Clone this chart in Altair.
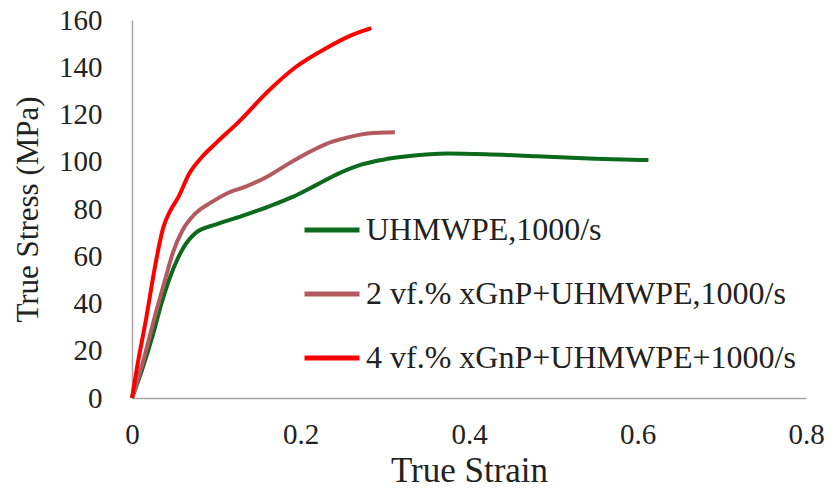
import altair as alt
import pandas as pd

series_names = ["UHMWPE,1000/s", "2 vf.% xGnP+UHMWPE,1000/s", "4 vf.% xGnP+UHMWPE+1000/s"]
colors = ["#0b6a1b", "#b35a5e", "#ff0000"]

green_strain = [0, 0.012, 0.025, 0.035, 0.045, 0.06, 0.076, 0.1, 0.13, 0.162, 0.19, 0.218, 0.245, 0.272, 0.3, 0.327, 0.374, 0.42, 0.48, 0.55, 0.613]
green_stress = [0, 12, 27, 40, 51, 63, 70, 73.5, 77, 81, 85, 90, 95, 98.8, 101, 102.3, 103.5, 103.2, 102.3, 101.3, 100.7]

brown_strain = [0, 0.012, 0.029, 0.04, 0.049, 0.06, 0.075, 0.095, 0.115, 0.135, 0.162, 0.185, 0.21, 0.23, 0.253, 0.28, 0.312]
brown_stress = [0, 14, 37, 51, 62, 71, 78, 83, 87, 89.5, 94, 99, 104, 107.5, 110, 112, 112.5]

red_strain = [0, 0.006, 0.017, 0.027, 0.037, 0.045, 0.055, 0.068, 0.083, 0.1, 0.127, 0.162, 0.194, 0.233, 0.26, 0.284]
red_stress = [0, 13, 34, 55, 72, 79, 85, 95, 102, 108, 117, 130, 140, 148.6, 153.5, 156.6]

rows = []
for name, xs, ys in zip(series_names, [green_strain, brown_strain, red_strain], [green_stress, brown_stress, red_stress]):
    for i, (x, y) in enumerate(zip(xs, ys)):
        rows.append({"series": name, "strain": x, "stress": y, "order": i})
df = pd.DataFrame(rows)

font = "Liberation Serif"

chart = alt.Chart(df).mark_line(strokeWidth=4, interpolate="monotone").encode(
    x=alt.X("strain:Q", scale=alt.Scale(domain=[0, 0.8], nice=False),
            axis=alt.Axis(title="True Strain", values=[0, 0.2, 0.4, 0.6, 0.8], format="~g",
                          grid=False, ticks=False, labelPadding=22, titlePadding=4,
                          labelFlush=False,
                          domainColor="#a6a6a6", domainWidth=1.5,
                          labelFontSize=29, titleFontSize=35, labelFont=font, titleFont=font,
                          labelColor="#222222", titleColor="#222222", titleFontWeight="normal")),
    y=alt.Y("stress:Q", scale=alt.Scale(domain=[0, 160], nice=False),
            axis=alt.Axis(title="True Stress (MPa)", values=list(range(0, 161, 20)),
                          grid=False, ticks=False, labelPadding=30, labelFlush=False,
                          domainColor="#a6a6a6", domainWidth=1.5,
                          labelFontSize=29, titleFontSize=31, labelFont=font, titleFont=font,
                          labelColor="#222222", titleColor="#222222", titleFontWeight="normal",
                          titleX=-88)),
    color=alt.Color("series:N", scale=alt.Scale(domain=series_names, range=colors),
                    legend=alt.Legend(title=None, orient="none", legendX=170, legendY=180,
                                      symbolType="stroke", symbolSize=3025, symbolStrokeWidth=5,
                                      labelFontSize=32, labelFont=font, labelColor="#222222",
                                      rowPadding=18, labelOffset=4, labelLimit=700)),
    order="order:Q",
).properties(
    width=674, height=378,
    autosize=alt.AutoSizeParams(type="none"),
    padding={"left": 124, "top": 12, "right": 22, "bottom": 85},
).configure_view(stroke=None)

chart.save("out.html", embed_options={"renderer": "svg", "actions": False})
